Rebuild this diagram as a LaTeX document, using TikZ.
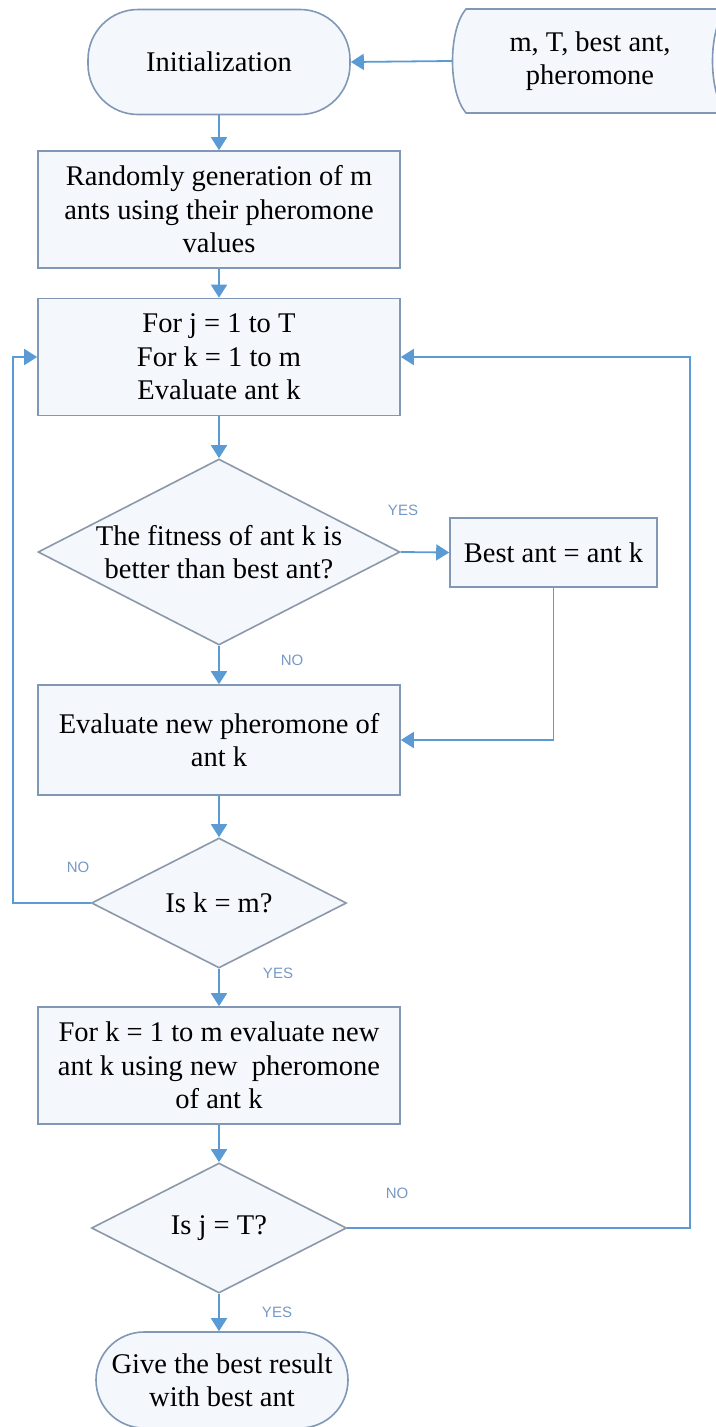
\documentclass[tikz,border=0pt]{standalone}
\usepackage{fontspec}
\setmainfont{Liberation Serif}
\newfontfamily\labelfont{Liberation Sans}
\usetikzlibrary{arrows.meta,shapes.geometric}

\definecolor{flowblue}{RGB}{91,155,213}
\definecolor{boxedge}{RGB}{128,152,182}
\definecolor{diaedge}{RGB}{138,152,170}
\definecolor{boxfill}{RGB}{244,247,252}
\definecolor{yesno}{RGB}{118,152,198}

\tikzset{
  txt/.style={font=\fontsize{28.5}{33.5}\selectfont, align=center, text=black},
  procbox/.style={txt, draw=boxedge, fill=boxfill, line width=1.6pt,
    rectangle, inner sep=0pt},
  termbox/.style={procbox, rounded corners=50pt},
  dia/.style={draw=diaedge, fill=boxfill, line width=1.6pt, diamond,
    inner sep=0pt},
  flow/.style={draw=flowblue, line width=1.8pt,
    -{Triangle[length=13pt,width=16pt]}},
  answer/.style={font=\labelfont\fontsize{15}{15}\selectfont, text=yesno}
}

\begin{document}
\begin{tikzpicture}[x=1pt,y=-1pt]
\useasboundingbox (0,0) rectangle (715,1427);

% stored-data input shape
\draw[draw=boxedge, fill=boxfill, line width=1.6pt]
  (466,9) -- (726,9) .. controls (708,30) and (708,92) .. (726,113)
  -- (466,113) .. controls (448,92) and (448,30) .. (466,9) -- cycle;
\node[txt, minimum width=276pt, minimum height=104pt, inner sep=0pt]
  (input) at (590,61) {m, T, best ant,\\pheromone};

% main column
\node[termbox, minimum width=262pt, minimum height=105pt] (init) at (219,62) {Initialization};
\node[procbox, minimum width=362pt, minimum height=117pt] (gen) at (219,209.5)
  {Randomly generation of m\\ants using their pheromone\\values};
\node[procbox, minimum width=362pt, minimum height=117pt] (loop) at (219,357)
  {For j = 1 to T\\For k = 1 to m\\Evaluate ant k};
\node[dia, minimum width=362pt, minimum height=186pt,
  label={[txt]center:The fitness of ant k is\\better than best ant?}] (fit) at (219,552) {};
\node[procbox, minimum width=207pt, minimum height=69pt] (best) at (553.5,552.5) {Best ant = ant k};
\node[procbox, minimum width=362pt, minimum height=110pt] (phero) at (219,740)
  {Evaluate new pheromone of\\ant k};
\node[dia, minimum width=255pt, minimum height=130pt,
  label={[txt]center:Is k = m?}] (km) at (219,903) {};
\node[procbox, minimum width=362pt, minimum height=117pt] (newant) at (219,1065.5)
  {For k = 1 to m evaluate new\\ant k using new\ \ pheromone\\of ant k};
\node[dia, minimum width=255pt, minimum height=130pt,
  label={[txt]center:Is j = T?}] (jt) at (219,1228) {};
\node[termbox, minimum width=252pt, minimum height=96pt, rounded corners=48pt] (out) at (222,1380)
  {Give the best result\\with best ant};

% connectors
\draw[flow] (input.west) -- (init.east);
\draw[flow] (init.south) -- (gen.north);
\draw[flow] (gen.south) -- (loop.north);
\draw[flow] (loop.south) -- (fit.north);
\draw[flow] (fit.east) -- (best.west);
\draw[flow] (fit.south) -- (phero.north);
\draw[flow] (best.south) |- (phero.east);
\draw[flow] (phero.south) -- (km.north);
\draw[flow] (km.west) -- (13,903) |- (loop.west);
\draw[flow] (km.south) -- (newant.north);
\draw[flow] (newant.south) -- (jt.north);
\draw[flow] (jt.east) -- (690,1228) |- (loop.east);
\draw[flow] (jt.south) -- (jt.south |- out.north);

% branch labels
\node[answer] (yes1) at (403,510) {YES};
\node[answer] (no1) at (292,660) {NO};
\node[answer] (no2) at (78,867) {NO};
\node[answer] (yes2) at (278,973) {YES};
\node[answer] (no3) at (397,1193) {NO};
\node[answer] (yes3) at (277,1312) {YES};
\end{tikzpicture}
\end{document}
